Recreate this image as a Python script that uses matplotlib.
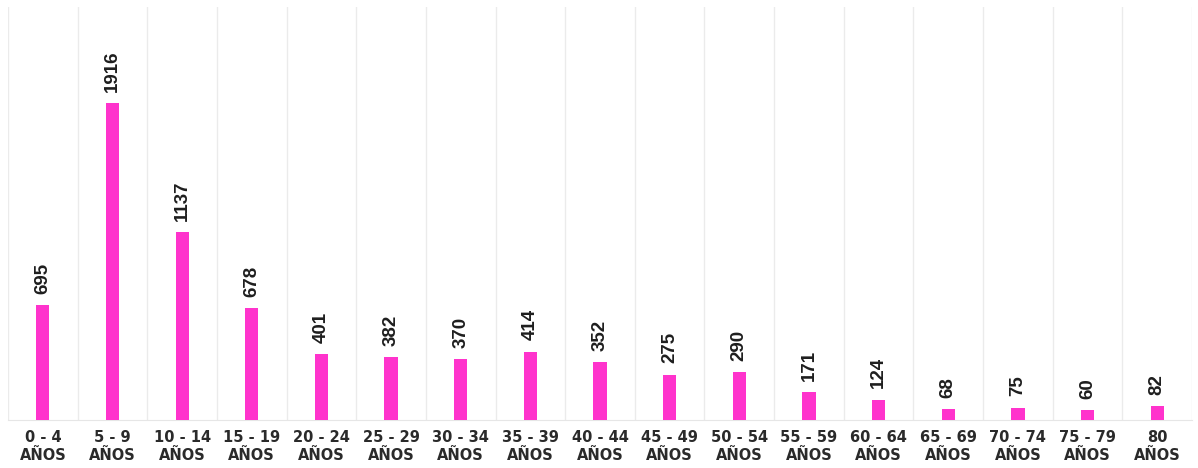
import numpy as np
import matplotlib.pyplot as plt

plt.rcParams['font.family'] = ['Liberation Sans', 'DejaVu Sans']

# age groups and counts
age_groups = ['0 - 4', '5 - 9', '10 - 14', '15 - 19', '20 - 24', '25 - 29',
              '30 - 34', '35 - 39', '40 - 44', '45 - 49', '50 - 54', '55 - 59',
              '60 - 64', '65 - 69', '70 - 74', '75 - 79', '80']
counts = [695, 1916, 1137, 678, 401, 382, 370, 414, 352, 275, 290, 171,
          124, 68, 75, 60, 82]

fig = plt.figure(figsize=(11.98, 4.68), dpi=100)
ax = fig.add_axes([0.0067, 0.1026, 0.9883, 0.8824])

x = np.arange(len(age_groups))
ax.bar(x, counts, width=0.19, color='#ff33cc', zorder=3)

# value labels, rotated
for xi, v in zip(x, counts):
    ax.annotate(str(v), (xi, v), xytext=(0, 8), textcoords='offset points',
                rotation=90, ha='center', va='bottom',
                fontsize=13.5, fontweight='bold', color='#1e1e1e')

# vertical separators between categories
for b in np.arange(-0.5, len(age_groups) + 0.5, 1):
    ax.axvline(b, color='#ebebeb', linewidth=1, zorder=0)

ax.set_xlim(-0.5, len(age_groups) - 0.5)
ax.set_ylim(0, 2500)
ax.set_yticks([])
ax.set_xticks(x)
ax.set_xticklabels([g + '\nAÑOS' for g in age_groups], fontsize=10.5,
                   fontweight='bold', color='#2a2a2a', linespacing=1.3,
                   family='DejaVu Sans')
ax.tick_params(axis='x', length=0, pad=7)

for s in ['top', 'left', 'right']:
    ax.spines[s].set_visible(False)
ax.spines['bottom'].set_color('#e6e6e6')

fig.savefig('out.png', dpi=100)
